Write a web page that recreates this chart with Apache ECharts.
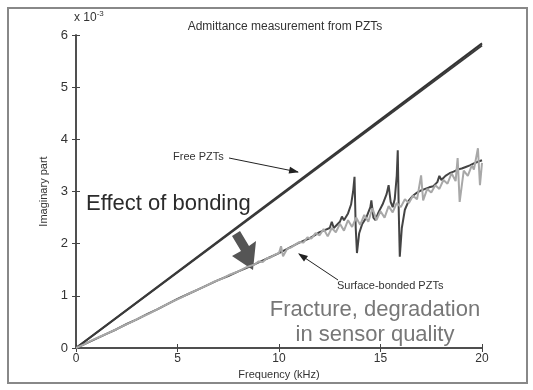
<!DOCTYPE html>
<html>
<head>
<meta charset="utf-8">
<script src="https://cdn.jsdelivr.net/npm/echarts@6/dist/echarts.min.js"></script>
<style>
html,body{margin:0;padding:0;background:#fff;}
#chart{width:533px;height:390px;}
</style>
</head>
<body>
<div id="chart"></div>
<script>
// values in units of 1e-3
var freeFreq = [0, 20];
var freeA = [0, 5.84];
var freeB = [0, 5.80];

var darkFreq = [0,0.5,1,1.5,2,2.5,3,3.5,4,4.5,5,5.5,6,6.5,7,7.5,8,8.5,9,9.5,10,10.5,11,11.25,11.5,11.75,12,12.25,12.5,12.6,12.7,13,13.1,13.2,13.4,13.55,13.65,13.72,13.78,13.84,13.95,14.1,14.3,14.5,14.55,14.65,14.75,14.9,15.1,15.3,15.4,15.5,15.6,15.7,15.8,15.85,15.9,15.95,16.05,16.2,16.4,16.6,16.8,17,17.2,17.4,17.6,17.8,17.9,18,18.2,18.4,18.6,18.8,19,19.2,19.4,19.6,19.8,20];
var darkVal = [0,0.09,0.18,0.27,0.36,0.46,0.55,0.65,0.74,0.84,0.94,1.03,1.12,1.21,1.30,1.38,1.47,1.55,1.64,1.73,1.82,1.92,2.02,2.06,2.10,2.16,2.22,2.26,2.30,2.42,2.30,2.42,2.52,2.45,2.58,2.75,3.0,3.28,2.3,1.82,2.2,2.38,2.5,2.7,2.83,2.5,2.45,2.6,2.75,2.95,3.12,2.8,2.7,2.85,3.3,3.79,2.6,1.75,2.3,2.65,2.83,2.92,2.98,3.02,3.05,3.08,3.1,3.18,3.3,3.22,3.3,3.35,3.38,3.42,3.44,3.47,3.5,3.54,3.57,3.6];

var lightFreq = [0,0.4,0.8,1.2,1.6,2,2.4,2.8,3.2,3.6,4,4.4,4.8,5.2,5.6,6,6.4,6.8,7.2,7.6,8,8.4,8.8,9,9.2,9.4,9.6,9.8,10,10.1,10.2,10.4,10.6,10.8,11,11.2,11.4,11.6,11.8,12,12.2,12.4,12.6,12.8,13,13.2,13.4,13.6,13.8,14,14.2,14.4,14.6,14.8,15,15.2,15.4,15.6,15.8,16,16.2,16.4,16.6,16.8,17,17.1,17.3,17.5,17.7,17.9,18.1,18.3,18.5,18.7,18.8,18.9,19.1,19.3,19.5,19.6,19.8,19.9,20];
var lightVal = [0,0.07,0.15,0.22,0.29,0.36,0.44,0.51,0.59,0.66,0.74,0.82,0.9,0.97,1.05,1.12,1.19,1.27,1.33,1.41,1.47,1.55,1.60,1.66,1.65,1.72,1.74,1.79,1.82,1.95,1.76,1.9,1.93,1.98,2.03,2.02,2.12,2.1,2.2,2.16,2.28,2.14,2.30,2.22,2.38,2.25,2.45,2.32,2.5,2.36,2.55,2.42,2.68,2.45,2.62,2.5,2.72,2.6,2.78,2.7,2.85,2.78,2.92,2.85,3.31,2.83,3.05,2.98,3.12,3.05,3.22,3.15,3.35,3.2,3.64,2.8,3.4,3.3,3.5,3.42,3.83,3.12,3.55];

function pairs(xs, ys) {
    var out = [];
    for (var i = 0; i < xs.length; i++) out.push([xs[i], ys[i]]);
    return out;
}

var chart = echarts.init(document.getElementById('chart'));
var axisCol = '#444';
var font = 'Liberation Sans, Arial, sans-serif';

var option = {
    animation: false,
    backgroundColor: '#fff',
    grid: { left: 76, right: 51, top: 35, bottom: 42, containLabel: false },
    title: {
        text: 'Admittance measurement from PZTs',
        left: 280, top: 16, textAlign: 'center',
        textStyle: { fontSize: 12, fontWeight: 'normal', color: '#333', fontFamily: font }
    },
    xAxis: [{
        type: 'value', min: 0, max: 20, interval: 5,
        name: 'Frequency (kHz)', nameLocation: 'middle', nameGap: 21,
        nameTextStyle: { fontSize: 11, color: '#333', fontFamily: font },
        axisLine: { lineStyle: { color: axisCol, width: 1.5 } },
        axisTick: { inside: true, length: 4, lineStyle: { color: axisCol } },
        axisLabel: { fontSize: 12, color: '#333', margin: 5, fontFamily: font },
        splitLine: { show: false }
    }, {
        type: 'value', min: 0, max: 20, interval: 5, position: 'top',
        axisLine: { lineStyle: { color: axisCol, width: 1.5 } },
        axisTick: { inside: true, length: 4, lineStyle: { color: axisCol } },
        axisLabel: { show: false }, splitLine: { show: false }
    }],
    yAxis: [{
        type: 'value', min: 0, max: 6, interval: 1,
        name: 'Imaginary part', nameLocation: 'middle', nameGap: 20, nameRotate: 90,
        nameTextStyle: { fontSize: 11, color: '#333', fontFamily: font },
        axisLine: { lineStyle: { color: axisCol, width: 1.5 } },
        axisTick: { inside: true, length: 4, lineStyle: { color: axisCol } },
        axisLabel: { fontSize: 13, color: '#333', margin: 8, fontFamily: font },
        splitLine: { show: false }
    }, {
        type: 'value', min: 0, max: 6, interval: 1, position: 'right',
        axisLine: { lineStyle: { color: axisCol, width: 1.5 } },
        axisTick: { inside: true, length: 4, lineStyle: { color: axisCol } },
        axisLabel: { show: false }, splitLine: { show: false }
    }],
    series: [
        { type: 'line', data: pairs(freeFreq, freeA), symbol: 'none', lineStyle: { color: '#333', width: 2 } },
        { type: 'line', data: pairs(freeFreq, freeB), symbol: 'none', lineStyle: { color: '#3a3a3a', width: 2 } },
        { type: 'line', data: pairs(darkFreq, darkVal), symbol: 'none', lineStyle: { color: '#444', width: 2 } },
        { type: 'line', data: pairs(lightFreq, lightVal), symbol: 'none', lineStyle: { color: '#a8a8a8', width: 2 } }
    ],
    graphic: [
        { type: 'rect', shape: { x: 8, y: 8, width: 519, height: 375 }, style: { fill: 'none', stroke: '#888', lineWidth: 2 }, silent: true },
        { type: 'text', left: 74, top: 10, style: { text: 'x 10{s|-3}', fill: '#333', font: '12px ' + font, rich: { s: { fontSize: 8, padding: [0, 0, 8, 0] } } } },
        { type: 'text', left: 173, top: 151, style: { text: 'Free PZTs', fill: '#333', font: '11px ' + font } },
        { type: 'line', shape: { x1: 229, y1: 158, x2: 298, y2: 172 }, style: { stroke: '#222', lineWidth: 1 } },
        { type: 'polygon', shape: { points: [[299, 172.3], [290, 166.8], [288.6, 173.5]] }, style: { fill: '#222' } },
        { type: 'text', left: 86, top: 193, style: { text: 'Effect of bonding', fill: '#2b2b2b', font: '22px ' + font } },
        { type: 'polygon', shape: { points: [[232, 236], [240, 231], [249, 246], [256, 241], [253, 270], [232, 256], [241, 251]] }, style: { fill: '#555' } },
        { type: 'text', left: 337, top: 280, style: { text: 'Surface-bonded PZTs', fill: '#333', font: '11px ' + font } },
        { type: 'line', shape: { x1: 338, y1: 280, x2: 299, y2: 254 }, style: { stroke: '#222', lineWidth: 1 } },
        { type: 'polygon', shape: { points: [[298, 253.3], [308, 256], [304, 261.5]] }, style: { fill: '#222' } },
        { type: 'text', style: { x: 375, y: 297, text: 'Fracture, degradation\nin sensor quality', textAlign: 'center', fill: '#777', font: '22px ' + font, lineHeight: 25 } }
    ]
};
chart.setOption(option);
</script>
</body>
</html>
